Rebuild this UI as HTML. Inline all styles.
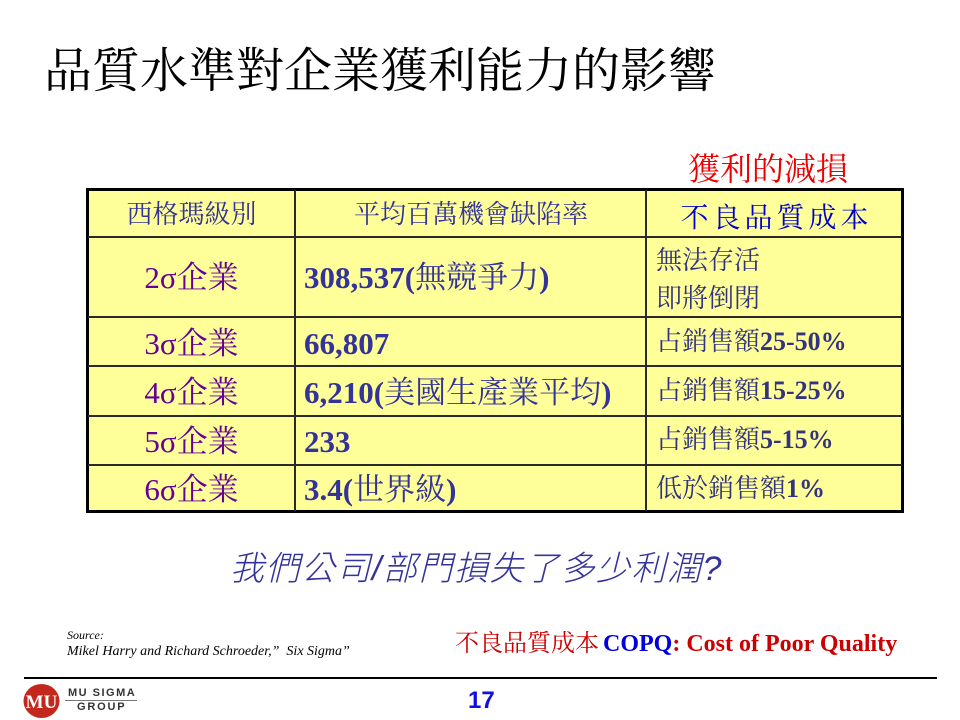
<!DOCTYPE html>
<html>
<head>
<meta charset="utf-8">
<style>
  html,body{margin:0;padding:0;background:#fff;}
  body{width:960px;height:720px;position:relative;overflow:hidden;}
  .a{position:absolute;white-space:nowrap;line-height:1;}
  .serif{font-family:"Liberation Serif","Noto Serif CJK SC",serif;}
  .sans{font-family:"Liberation Sans","Noto Sans CJK TC",sans-serif;}
  .hl{position:absolute;background:#2a2a2a;height:2px;left:88px;width:814px;}
  .vl{position:absolute;background:#2a2a2a;width:2px;top:190px;height:321px;}
  .c1{position:absolute;left:88px;width:207px;text-align:center;font-size:31px;color:#660099;}
  .c2{position:absolute;left:304px;font-size:31px;color:#333399;}
  .c2 b{font-weight:bold;}
  .c3{position:absolute;left:656px;font-size:26px;color:#333380;}
  .c3 b{font-weight:bold;}
</style>
</head>
<body>

<!-- Title -->
<div class="a serif" style="left:44px;top:48px;font-size:48px;color:#000;">品質水準對企業獲利能力的影響</div>

<!-- red label -->
<div class="a serif" style="left:688px;top:153px;font-size:32px;color:#ee0000;">獲利的減損</div>

<!-- Table -->
<div style="position:absolute;left:86px;top:188px;width:818px;height:325px;box-sizing:border-box;border:3px solid #000;background:#ffff99;"></div>
<div class="vl" style="left:294px;"></div>
<div class="vl" style="left:645px;"></div>
<div class="hl" style="top:236px;"></div>
<div class="hl" style="top:316px;"></div>
<div class="hl" style="top:365px;"></div>
<div class="hl" style="top:415px;"></div>
<div class="hl" style="top:464px;"></div>

<!-- Header -->
<div class="a serif" style="left:88px;width:207px;text-align:center;top:202px;font-size:26px;color:#333399;">西格瑪級別</div>
<div class="a serif" style="left:296px;width:350px;text-align:center;top:202px;font-size:26px;color:#333399;">平均百萬機會缺陷率</div>
<div class="a serif" style="left:647px;width:255px;text-align:center;top:205px;font-size:28px;letter-spacing:4px;padding-left:4px;box-sizing:border-box;color:#0000cc;">不良品質成本</div>

<!-- Column 1 -->
<div class="a serif c1" style="top:262px;">2σ企業</div>
<div class="a serif c1" style="top:328px;">3σ企業</div>
<div class="a serif c1" style="top:377px;">4σ企業</div>
<div class="a serif c1" style="top:426px;">5σ企業</div>
<div class="a serif c1" style="top:474px;">6σ企業</div>

<!-- Column 2 -->
<div class="a serif c2" style="top:262px;"><b>308,537(</b>無競爭力<b>)</b></div>
<div class="a serif c2" style="top:328px;"><b>66,807</b></div>
<div class="a serif c2" style="top:377px;"><b>6,210(</b>美國生產業平均<b>)</b></div>
<div class="a serif c2" style="top:426px;"><b>233</b></div>
<div class="a serif c2" style="top:474px;"><b>3.4(</b>世界級<b>)</b></div>

<!-- Column 3 -->
<div class="a serif c3" style="top:248px;">無法存活</div>
<div class="a serif c3" style="top:286px;">即將倒閉</div>
<div class="a serif c3" style="top:329px;">占銷售額<b>25-50%</b></div>
<div class="a serif c3" style="top:378px;">占銷售額<b>15-25%</b></div>
<div class="a serif c3" style="top:427px;">占銷售額<b>5-15%</b></div>
<div class="a serif c3" style="top:476px;">低於銷售額<b>1%</b></div>

<!-- Question -->
<div class="a sans" style="left:230px;top:552px;font-size:34px;letter-spacing:1.5px;font-style:italic;font-weight:300;color:#333399;">我們公司/部門損失了多少利潤?</div>

<!-- Source -->
<div class="a serif" style="left:67px;top:629px;font-size:12px;font-style:italic;color:#000;">Source:</div>
<div class="a serif" style="left:67px;top:645px;font-size:14px;font-style:italic;color:#000;">Mikel Harry and Richard Schroeder,”&nbsp; Six Sigma”</div>

<!-- COPQ -->
<div class="a serif" style="left:455px;top:632px;font-size:24px;color:#cc0000;">不良品質成本<b style="color:#0000dd;margin-left:4px;">COPQ</b><b>: Cost of Poor Quality</b></div>

<!-- bottom rule -->
<div style="position:absolute;left:24px;top:677px;width:913px;height:1.5px;background:#000;"></div>

<!-- page number -->
<div class="a sans" style="left:468px;top:689px;font-size:24px;font-weight:bold;color:#1010e0;">17</div>

<!-- Logo -->
<svg style="position:absolute;left:20px;top:682px;" width="44" height="38" viewBox="0 0 44 38">
  <ellipse cx="21.5" cy="19" rx="18" ry="17" fill="#c4281c"/>
  <text x="21.5" y="26" text-anchor="middle" font-family="Liberation Serif, serif" font-weight="bold" font-size="19" fill="#fff">MU</text>
</svg>
<div class="a sans" style="left:68px;top:688px;font-size:11px;font-weight:bold;letter-spacing:1.5px;color:#333;">MU SIGMA</div>
<div style="position:absolute;left:65px;top:700px;width:72px;height:1px;background:#777;"></div>
<div class="a sans" style="left:77px;top:702px;font-size:11px;font-weight:bold;letter-spacing:1.8px;color:#333;">GROUP</div>

</body>
</html>
